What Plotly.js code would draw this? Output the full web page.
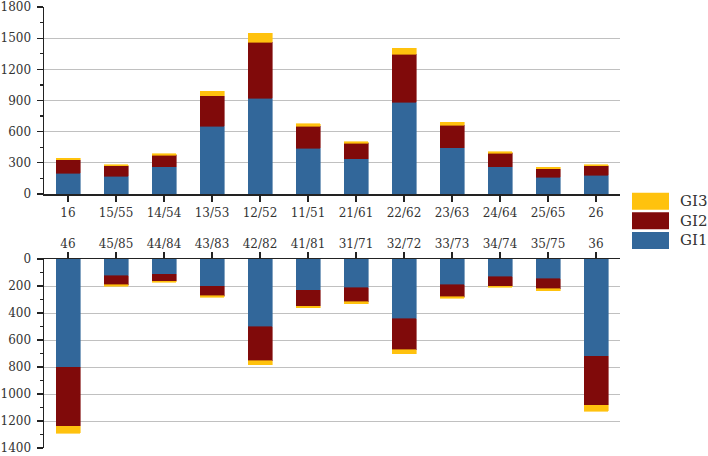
<!DOCTYPE html>
<html>
<head>
<meta charset="utf-8">
<script src="https://cdn.plot.ly/plotly-3.0.1.min.js"></script>
<style>html,body{margin:0;padding:0;background:#fff;}#chart{width:708px;height:456px;}</style>
</head>
<body>
<div id="chart"></div>
<script>
// ---- data ----
const categoriesTop = ['16','15/55','14/54','13/53','12/52','11/51','21/61','22/62','23/63','24/64','25/65','26'];
const categoriesBottom = ['46','45/85','44/84','43/83','42/82','41/81','31/71','32/72','33/73','34/74','35/75','36'];
const seriesNames = ['GI1','GI2','GI3'];
const topGI1 = [200,170,260,650,920,440,340,885,443,263,160,180];
const topGI2 = [130,100,112,297,540,210,148,460,220,130,85,90];
const topGI3 = [12,13,16,42,85,25,13,57,30,12,12,12];
const bottomGI1 = [800,125,113,200,503,232,212,441,192,131,145,722];
const bottomGI2 = [440,67,52,74,249,118,106,230,87,69,77,363];
const bottomGI3 = [50,9,8,10,32,10,12,29,12,8,12,42];
const topTicks = [0,300,600,900,1200,1500,1800];
const bottomTicks = [0,200,400,600,800,1000,1200,1400];

// ---- style ----
const colors = ['#32679A','#800A0A','#FFC20E'];
const FONT = 'DejaVu Serif, Liberation Serif, serif';
const TXT = '#333';
const LINE = '#222';
const GRID = '#c0c0c0';

const positions = topGI1.map((_, i) => i);
const topSeries = [topGI1, topGI2, topGI3];
const bottomSeries = [bottomGI1, bottomGI2, bottomGI3];

const traces = [];
topSeries.forEach((vals, k) => traces.push({
  type: 'bar', x: positions, y: vals, name: seriesNames[k],
  marker: {color: colors[k], line: {width: 0.6, color: colors[k]}}, xaxis: 'x', yaxis: 'y',
  showlegend: false, hoverinfo: 'skip'
}));
bottomSeries.forEach((vals, k) => traces.push({
  type: 'bar', x: positions, y: vals, name: seriesNames[k],
  marker: {color: colors[k], line: {width: 0.6, color: colors[k]}}, xaxis: 'x2', yaxis: 'y2',
  showlegend: false, hoverinfo: 'skip'
}));
// empty traces to host the grid-only overlay axes
traces.push({type: 'bar', x: [], y: [], xaxis: 'x', yaxis: 'y3', showlegend: false});
traces.push({type: 'bar', x: [], y: [], xaxis: 'x2', yaxis: 'y4', showlegend: false});

const W = 708, H = 456;
const M = {l: 44, r: 88, t: 7, b: 8};
const pw = W - M.l - M.r, ph = H - M.t - M.b;
const px2x = p => (p - M.l) / pw;
const py2y = p => (H - M.b - p) / ph;

const xRange = [-0.5, categoriesTop.length - 0.5];

const baseY = {
  showline: true, linecolor: LINE, linewidth: 1.5,
  ticks: 'outside', ticklen: 6, tickwidth: 1.2, tickcolor: LINE,
  tickfont: {family: FONT, size: 12, color: TXT},
  showgrid: false, zeroline: false, tickmode: 'array', ticklabelstandoff: 3,
  ticklabeloverflow: 'allow', fixedrange: true
};
const baseX = {
  showline: true, linecolor: LINE, linewidth: 1.5,
  ticks: 'outside', ticklen: 6, tickwidth: 1.2, tickcolor: LINE,
  tickfont: {family: FONT, size: 12, color: TXT},
  showgrid: false, zeroline: false, tickmode: 'array', tickvals: positions,
  range: xRange, ticklabeloverflow: 'allow', fixedrange: true
};

// legend drawn as shapes + text (reversed order, GI3 on top)
const legendRowsTop = [192.7, 212.3, 232];
const shapes = [];
const annotations = [];
[2, 1, 0].forEach((k, r) => {
  const y0 = legendRowsTop[r], y1 = y0 + 17;
  shapes.push({type: 'rect', xref: 'paper', yref: 'paper',
    x0: px2x(632), x1: px2x(669), y0: py2y(y1), y1: py2y(y0),
    fillcolor: colors[k], line: {width: 0}});
  annotations.push({xref: 'paper', yref: 'paper', x: px2x(678), y: py2y((y0 + y1) / 2),
    xanchor: 'left', yanchor: 'middle', showarrow: false, text: seriesNames[k],
    font: {family: FONT, size: 15, color: TXT}});
});

const topDomain = [py2y(194), 1];
const bottomDomain = [0, py2y(259)];

const layout = {
  width: W, height: H, margin: M,
  paper_bgcolor: '#fff', plot_bgcolor: 'rgba(0,0,0,0)',
  barmode: 'stack', bargap: 0.5, showlegend: false,
  xaxis: Object.assign({}, baseX, {anchor: 'y', ticktext: categoriesTop, side: 'bottom', ticklabelstandoff: 1}),
  xaxis2: Object.assign({}, baseX, {anchor: 'y2', ticktext: categoriesBottom, side: 'top', ticklabelstandoff: -1}),
  yaxis: Object.assign({}, baseY, {domain: topDomain, anchor: 'x', range: [0, 1800],
    tickvals: topTicks,
    minor: {tickmode: 'linear', tick0: 0, dtick: 150, ticks: 'outside', ticklen: 3, tickwidth: 1.2, tickcolor: LINE, showgrid: false}}),
  yaxis2: Object.assign({}, baseY, {domain: bottomDomain, anchor: 'x2', range: [1400, 0],
    tickvals: bottomTicks,
    minor: {tickmode: 'linear', tick0: 0, dtick: 100, ticks: 'outside', ticklen: 3, tickwidth: 1.2, tickcolor: LINE, showgrid: false}}),
  yaxis3: {overlaying: 'y', anchor: 'x', range: [0, 1800], tickmode: 'array',
    tickvals: topTicks.slice(1, -1), showgrid: true, gridcolor: GRID, gridwidth: 1,
    showticklabels: false, ticks: '', showline: false, zeroline: false, fixedrange: true},
  yaxis4: {overlaying: 'y2', anchor: 'x2', range: [1400, 0], tickmode: 'array',
    tickvals: bottomTicks.slice(1, -1), showgrid: true, gridcolor: GRID, gridwidth: 1,
    showticklabels: false, ticks: '', showline: false, zeroline: false, fixedrange: true},
  shapes: shapes, annotations: annotations
};

Plotly.newPlot('chart', traces, layout, {staticPlot: true, displayModeBar: false});
</script>
</body>
</html>
